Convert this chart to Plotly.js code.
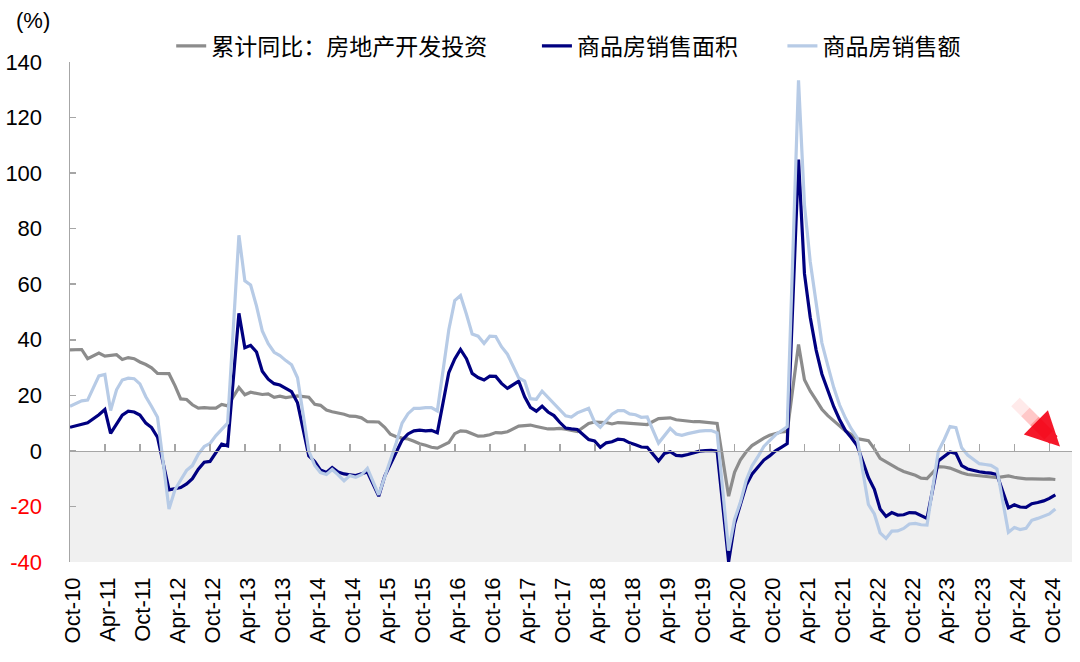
<!DOCTYPE html>
<html>
<head>
<meta charset="utf-8">
<script src="https://cdn.plot.ly/plotly-3.0.1.min.js"></script>
<style>
html,body{margin:0;padding:0;background:#ffffff;}
#chart{width:1080px;height:662px;}
</style>
</head>
<body>
<div id="chart"></div>
<script>
// Reporting months (January is not published separately; Jan-Feb reported as Feb)
const months = [
"2010-09","2010-10","2010-11","2010-12",
"2011-02","2011-03","2011-04","2011-05","2011-06","2011-07","2011-08","2011-09","2011-10","2011-11","2011-12",
"2012-02","2012-03","2012-04","2012-05","2012-06","2012-07","2012-08","2012-09","2012-10","2012-11","2012-12",
"2013-02","2013-03","2013-04","2013-05","2013-06","2013-07","2013-08","2013-09","2013-10","2013-11","2013-12",
"2014-02","2014-03","2014-04","2014-05","2014-06","2014-07","2014-08","2014-09","2014-10","2014-11","2014-12",
"2015-02","2015-03","2015-04","2015-05","2015-06","2015-07","2015-08","2015-09","2015-10","2015-11","2015-12",
"2016-02","2016-03","2016-04","2016-05","2016-06","2016-07","2016-08","2016-09","2016-10","2016-11","2016-12",
"2017-02","2017-03","2017-04","2017-05","2017-06","2017-07","2017-08","2017-09","2017-10","2017-11","2017-12",
"2018-02","2018-03","2018-04","2018-05","2018-06","2018-07","2018-08","2018-09","2018-10","2018-11","2018-12",
"2019-02","2019-03","2019-04","2019-05","2019-06","2019-07","2019-08","2019-09","2019-10","2019-11","2019-12",
"2020-02","2020-03","2020-04","2020-05","2020-06","2020-07","2020-08","2020-09","2020-10","2020-11","2020-12",
"2021-02","2021-03","2021-04","2021-05","2021-06","2021-07","2021-08","2021-09","2021-10","2021-11","2021-12",
"2022-02","2022-03","2022-04","2022-05","2022-06","2022-07","2022-08","2022-09","2022-10","2022-11","2022-12",
"2023-02","2023-03","2023-04","2023-05","2023-06","2023-07","2023-08","2023-09","2023-10","2023-11","2023-12",
"2024-02","2024-03","2024-04","2024-05","2024-06","2024-07","2024-08","2024-09","2024-10"
];

// 累计同比：房地产开发投资 (%)
const investYoY = [
36.4,36.5,36.5,33.2,
35.2,34.1,34.3,34.6,32.9,33.6,33.2,32.0,31.1,29.9,27.9,
27.8,23.5,18.7,18.5,16.6,15.4,15.6,15.4,15.4,16.7,16.2,
22.8,20.2,21.1,20.6,20.3,20.5,19.3,19.7,19.2,19.5,19.8,
19.3,16.8,16.4,14.7,14.1,13.7,13.2,12.5,12.4,11.9,10.5,
10.4,8.5,6.0,5.1,4.6,4.3,3.5,2.6,2.0,1.3,1.0,
3.0,6.2,7.2,7.0,6.1,5.3,5.4,5.8,6.6,6.5,6.9,
8.9,9.1,9.3,8.8,8.5,7.9,7.9,8.1,7.8,7.5,7.0,
9.9,10.4,10.3,10.2,9.7,10.2,10.1,9.9,9.7,9.7,9.5,
11.6,11.8,11.9,11.2,10.9,10.6,10.5,10.5,10.3,10.2,9.9,
-16.3,-7.7,-3.3,-0.3,1.9,3.4,4.6,5.6,6.3,6.8,7.0,
38.3,25.6,21.6,18.3,15.0,12.7,10.9,8.8,7.2,6.0,4.4,
3.7,0.7,-2.7,-4.0,-5.4,-6.4,-7.4,-8.0,-8.8,-9.8,-10.0,
-5.7,-5.8,-6.2,-7.2,-7.9,-8.5,-8.8,-9.1,-9.3,-9.4,-9.6,
-9.0,-9.5,-9.8,-10.1,-10.1,-10.2,-10.2,-10.1,-10.3
];

// 商品房销售面积 累计同比 (%)
const salesAreaYoY = [
8.5,9.0,9.6,10.1,
13.0,14.9,6.3,9.8,12.9,14.3,14.0,12.9,10.0,8.4,4.9,
-14.0,-13.6,-13.2,-11.9,-10.0,-6.6,-4.1,-3.8,-0.5,2.4,1.8,
49.5,37.1,38.0,35.6,28.7,25.8,24.2,23.7,22.4,21.3,17.3,
-1.8,-3.8,-6.9,-7.8,-6.0,-7.6,-8.3,-8.6,-8.9,-8.2,-7.6,
-16.3,-9.2,-4.8,-0.2,3.9,6.1,7.2,7.5,7.2,7.4,6.5,
28.2,33.1,36.5,33.2,27.9,26.4,25.5,26.9,26.8,24.3,22.5,
25.1,19.5,15.7,14.3,16.1,14.0,12.7,10.3,8.2,7.9,7.7,
4.1,3.6,1.3,2.9,3.3,4.2,4.0,2.9,2.2,1.4,1.3,
-3.6,-0.9,-0.3,-1.6,-1.8,-1.3,-0.6,-0.1,0.1,0.2,-0.1,
-39.9,-26.3,-19.3,-12.3,-8.4,-5.8,-3.3,-1.8,0.0,1.3,2.6,
104.9,63.8,48.1,36.3,27.7,21.5,15.9,11.3,7.3,4.8,1.9,
-9.6,-13.8,-20.9,-23.6,-22.2,-23.1,-23.0,-22.2,-22.3,-23.3,-24.3,
-3.6,-1.8,-0.4,-0.9,-5.3,-6.5,-7.1,-7.5,-7.8,-8.0,-8.5,
-20.5,-19.4,-20.2,-20.3,-19.0,-18.6,-18.0,-17.1,-15.8
];

// 商品房销售额 累计同比 (%)
const salesValueYoY = [
16.1,17.0,18.0,18.3,
27.0,27.5,14.5,22.0,25.5,26.2,26.0,24.1,19.5,16.0,12.1,
-20.9,-14.0,-10.5,-7.0,-5.3,-1.2,1.6,2.7,5.5,7.9,10.0,
77.6,61.2,59.7,52.1,43.2,38.6,35.5,34.3,32.5,31.0,26.3,
-0.1,-5.2,-7.8,-8.5,-6.7,-8.6,-10.8,-8.9,-9.5,-8.6,-6.3,
-15.8,-9.3,-3.9,3.0,10.0,13.4,15.3,15.3,15.6,15.6,14.4,
43.6,54.1,55.9,49.2,42.1,41.3,38.7,41.3,41.2,37.5,34.8,
26.3,25.1,18.8,18.6,21.5,19.3,17.0,14.6,12.6,12.2,13.7,
15.3,10.4,8.5,11.0,13.2,14.5,14.5,13.3,13.0,12.1,12.2,
2.8,5.6,8.1,6.1,5.6,6.2,6.7,7.1,7.3,7.3,6.5,
-35.9,-24.7,-18.6,-10.6,-5.4,-2.1,1.6,3.7,5.8,7.2,8.7,
133.4,88.5,68.2,52.4,38.9,30.7,22.8,16.6,11.8,8.0,4.8,
-19.3,-22.7,-29.5,-31.5,-28.9,-28.8,-27.9,-26.3,-26.1,-26.6,-26.7,
-0.1,4.1,8.8,8.4,1.1,-1.5,-3.2,-4.6,-4.9,-5.2,-6.5,
-29.3,-27.6,-28.3,-27.9,-25.0,-24.3,-23.6,-22.7,-20.9
];

const seriesNames = ["累计同比：房地产开发投资", "商品房销售面积", "商品房销售额"];
const seriesColors = ["#8c8c8c", "#000080", "#b7cbe6"];
const yTickVals = [-40, -20, 0, 20, 40, 60, 80, 100, 120, 140];
const yUnit = "(%)";

// cumulative data are dated at the end of each reporting month
function monthEnd(s) {
  const p = s.split("-").map(Number);
  return new Date(Date.UTC(p[0], p[1], 0)).toISOString().slice(0, 10);
}
const xDates = months.map(monthEnd);

const numFont = "Liberation Sans, Arial, sans-serif";
const cjkFont = "Noto Sans CJK SC, Liberation Sans, sans-serif";
const xRange = ["2010-09-30", "2025-01-26"];

const seriesData = [investYoY, salesAreaYoY, salesValueYoY];
const legendIds = ["legend", "legend2", "legend3"];
const traces = seriesData.map((vals, i) => ({
  type: "scatter",
  mode: "lines",
  x: xDates,
  y: vals,
  name: seriesNames[i],
  connectgaps: true,
  line: {color: seriesColors[i], width: 3.2},
  legend: legendIds[i],
  hoverinfo: "x+y"
}));
// carrier for the bottom label axis
traces.push({type: "scatter", mode: "lines", x: [xDates[0]], y: [null], xaxis: "x2", yaxis: "y",
  showlegend: false, hoverinfo: "skip"});

const yTickText = yTickVals.map(v => v < 0 ? '<span style="color:#ff0000">' + v + '</span>' : String(v));

function legendBox(x) {
  return {orientation: "h", x: x, y: 1.032, xanchor: "left", yanchor: "middle",
    bgcolor: "rgba(0,0,0,0)", borderwidth: 0,
    font: {family: cjkFont, size: 23, color: "#000000"}};
}

const layout = {
  width: 1080, height: 662,
  margin: {l: 70, r: 8, t: 62, b: 100},
  paper_bgcolor: "#ffffff", plot_bgcolor: "rgba(0,0,0,0)",
  showlegend: true,
  legend: legendBox(0.101),
  legend2: legendBox(0.466),
  legend3: legendBox(0.711),
  xaxis: {
    type: "date", range: xRange, autorange: false,
    anchor: "free", position: 40 / 180,
    showline: true, linecolor: "#a6a6a6", linewidth: 1.5,
    ticks: "inside", ticklen: 7, tickwidth: 1.5, tickcolor: "#a6a6a6",
    tick0: "2010-10-01", dtick: "M6",
    showticklabels: false, showgrid: false, zeroline: false
  },
  xaxis2: {
    type: "date", range: xRange, autorange: false,
    overlaying: "x", anchor: "y", side: "bottom",
    showline: false, ticks: "", showgrid: false, zeroline: false,
    tick0: "2010-10-16", dtick: "M6", tickformat: "%b-%y", tickangle: -90,
    tickfont: {family: numFont, size: 22, color: "#000000"},
    ticklabelstandoff: 10
  },
  yaxis: {
    range: [-40, 140], autorange: false, domain: [0, 1],
    tickvals: yTickVals, ticktext: yTickText,
    showline: true, linecolor: "#a6a6a6", linewidth: 1.5,
    ticks: "inside", ticklen: 6, tickwidth: 1.5, tickcolor: "#a6a6a6",
    showgrid: false, zeroline: false,
    tickfont: {family: numFont, size: 22, color: "#000000"},
    ticklabelstandoff: 22
  },
  shapes: [{
    type: "rect", xref: "paper", x0: 0, x1: 1, yref: "y", y0: -40, y1: 0,
    fillcolor: "#f0f0f0", line: {width: 0}, layer: "below"
  }],
  annotations: [
    {xref: "paper", yref: "paper", x: -0.037, y: 1.082, text: yUnit, showarrow: false,
     xanchor: "center", yanchor: "middle", font: {family: numFont, size: 22, color: "#000000"}},
    {xref: "paper", yref: "paper", x: 0.988, y: 0.231, text: "", showarrow: true,
     ax: -46, ay: -46, arrowhead: 0, arrowwidth: 12, arrowcolor: "rgba(255,0,0,0.08)", standoff: 16},
    {xref: "paper", yref: "paper", x: 0.988, y: 0.231, text: "", showarrow: true,
     ax: -36, ay: -36, arrowhead: 0, arrowwidth: 12, arrowcolor: "rgba(255,0,0,0.14)", standoff: 16},
    {xref: "paper", yref: "paper", x: 0.988, y: 0.231, text: "", showarrow: true,
     ax: -27, ay: -27, arrowhead: 0, arrowwidth: 12, arrowcolor: "rgba(255,0,0,0.22)", standoff: 16},
    {xref: "paper", yref: "paper", x: 0.988, y: 0.231, text: "", showarrow: true,
     ax: -20, ay: -20, arrowhead: 2, arrowsize: 0.62, arrowwidth: 11, arrowcolor: "rgba(245,0,20,0.9)"}
  ]
};

Plotly.newPlot("chart", traces, layout, {displayModeBar: false, staticPlot: true});
</script>
</body>
</html>
